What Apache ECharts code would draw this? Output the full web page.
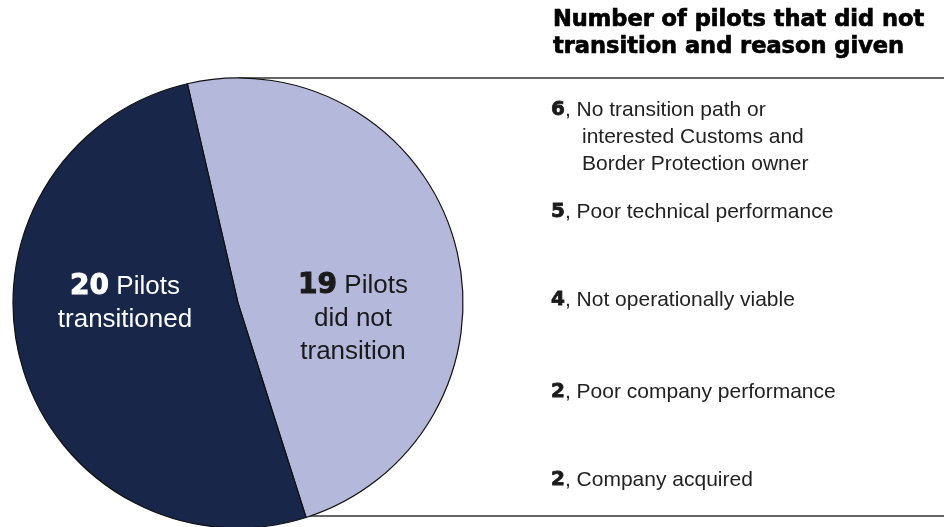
<!DOCTYPE html>
<html lang="en">
<head>
<meta charset="UTF-8">
<title>Pilots transition</title>
<script src="https://cdn.jsdelivr.net/npm/echarts@6/dist/echarts.min.js"></script>
<style>html,body{margin:0;padding:0;background:#fff}#chart{width:948px;height:527px}</style>
</head>
<body>
<div id="chart"></div>
<script>
var sliceNames = ['Pilots did not transition', 'Pilots transitioned'];
var sliceValues = [19, 20];
var sliceText = [['Pilots', 'did not', 'transition'], ['Pilots', 'transitioned']];
var reasonCounts = [6, 5, 4, 2, 2];
var reasonLabels = ['No transition path or\ninterested Customs and\nBorder Protection owner', 'Poor technical performance', 'Not operationally viable', 'Poor company performance', 'Company acquired'];
var titleText = 'Number of pilots that did not\ntransition and reason given';

// layout only
var reasonY = [110, 212, 300, 392, 480];
var labelPos = [[353, 319], [125, 303]];
var sliceColors = ['#b4b9db', '#18264a'];
var labelColors = ['#1a1a1a', '#ffffff'];

var body = 'Liberation Sans, Arial, sans-serif';
var heavy = 'DejaVu Sans, sans-serif';

var graphics = [
    {type: 'line', shape: {x1: 238, y1: 78, x2: 944, y2: 78}, style: {stroke: '#333', lineWidth: 1.5}},
    {type: 'line', shape: {x1: 238, y1: 516, x2: 944, y2: 516}, style: {stroke: '#333', lineWidth: 1.5}},
    {type: 'text', x: 553, y: 7, style: {text: titleText, fill: '#000', stroke: '#000', lineWidth: 0.7,
        font: 'bold 22.5px ' + heavy, lineHeight: 27, textVerticalAlign: 'top'}}
];
reasonCounts.forEach(function (n, i) {
    var lines = reasonLabels[i].split('\n');
    graphics.push({
        type: 'text', x: 551, y: reasonY[i],
        style: {
            text: '{n|' + n + '}{t|, ' + lines[0] + '}',
            textVerticalAlign: 'middle',
            rich: {
                n: {fontFamily: heavy, fontWeight: 'bold', fontSize: 20, fill: '#1a1a1a', stroke: '#1a1a1a', lineWidth: 0.8},
                t: {fontFamily: body, fontSize: 21, fill: '#222'}
            }
        }
    });
    for (var k = 1; k < lines.length; k++) {
        graphics.push({
            type: 'text', x: 582, y: reasonY[i] + 27 * k,
            style: {text: lines[k], fill: '#222', font: '21px ' + body, textVerticalAlign: 'middle'}
        });
    }
});

var chart = echarts.init(document.getElementById('chart'));
chart.setOption({
    animation: false,
    backgroundColor: '#fff',
    graphic: graphics,
    series: [{
        type: 'pie',
        center: [238, 303],
        radius: 225,
        startAngle: 103,
        clockwise: true,
        emphasis: {disabled: true},
        itemStyle: {borderColor: '#111', borderWidth: 1.2},
        data: sliceValues.map(function (v, i) {
            var c = labelColors[i];
            return {
                name: sliceNames[i], value: v, itemStyle: {color: sliceColors[i]},
                label: {color: c, rich: {
                    n: {color: c, fontFamily: heavy, fontWeight: 'bold', fontSize: 28, lineHeight: 33, textBorderColor: c, textBorderWidth: 1},
                    t: {color: c, fontFamily: body, fontSize: 26, lineHeight: 33}
                }}
            };
        }),
        label: {
            show: true,
            position: 'inside',
            align: 'center',
            formatter: function (p) {
                var t = sliceText[p.dataIndex];
                var s = '{n|' + p.value + '}{t| ' + t[0] + '}';
                for (var k = 1; k < t.length; k++) s += '\n{t|' + t[k] + '}';
                return s;
            }
        },
        labelLayout: function (p) {
            return {x: labelPos[p.dataIndex][0], y: labelPos[p.dataIndex][1], align: 'center', verticalAlign: 'middle'};
        },
        labelLine: {show: false}
    }]
});
</script>
</body>
</html>
